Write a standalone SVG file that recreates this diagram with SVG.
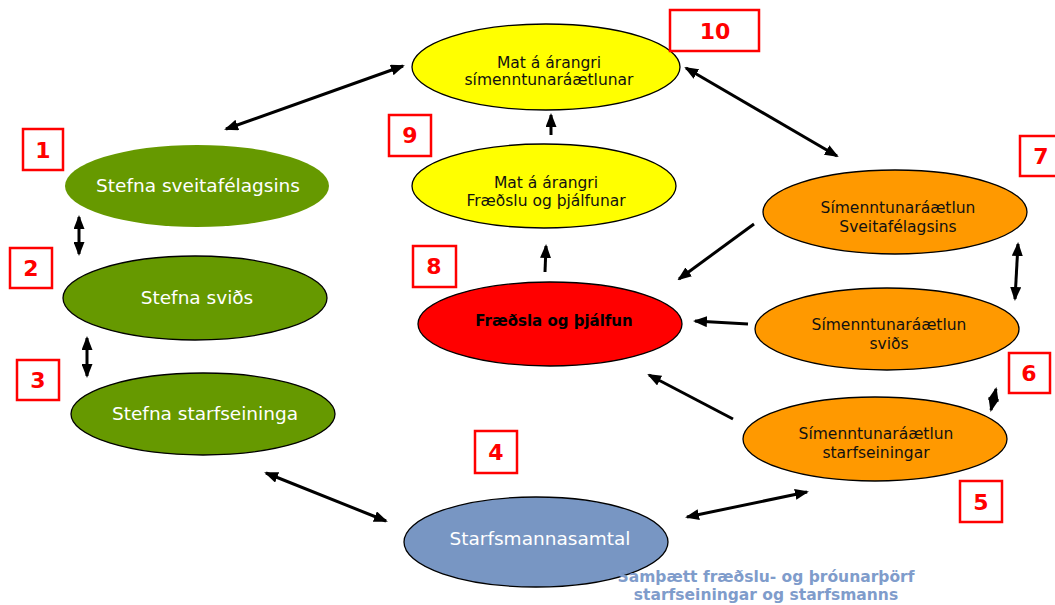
<svg xmlns="http://www.w3.org/2000/svg" width="1055" height="605" viewBox="0 0 1055 605">
<style>
text{font-family:"DejaVu Sans",Verdana,"Liberation Sans",sans-serif;text-anchor:middle}
.e{stroke:#000;stroke-width:1.3}
.green{fill:#669900}
.yellow{fill:#ffff00}
.orange{fill:#ff9900}
.red{fill:#ff0000}
.blue{fill:#7896c3}
.wt{fill:#fff;font-size:18.5px}
.bt{fill:#111;font-size:15.5px}
.num rect{fill:#fff;stroke:#ff0000;stroke-width:2.5}
.num text{fill:#ff0000;font-size:22px;font-weight:bold}
.cap{fill:#7f9ccb;font-size:15.5px;font-weight:bold}
#connectors line{stroke:#000;stroke-width:3}
.d{marker-start:url(#ah);marker-end:url(#ah)}
.s{marker-end:url(#ah)}
</style>
<defs>
<marker id="ah" viewBox="0 0 14 11" markerWidth="14" markerHeight="11" refX="12" refY="5.5" orient="auto-start-reverse" markerUnits="userSpaceOnUse">
<path d="M0,0 L14,5.5 L0,11 z" fill="#000"/>
</marker>
</defs>
<rect width="1055" height="605" fill="#fff"/>

<g id="n1"><ellipse class="green" cx="197" cy="186" rx="132" ry="41"/><text class="wt" x="198" y="192">Stefna sveitafélagsins</text></g>
<g id="n2"><ellipse class="green e" cx="195" cy="298" rx="132" ry="42"/><text class="wt" x="197" y="304">Stefna sviðs</text></g>
<g id="n3"><ellipse class="green e" cx="203" cy="414" rx="132" ry="41"/><text class="wt" x="205" y="420">Stefna starfseininga</text></g>
<g id="n4"><ellipse class="blue e" cx="536" cy="542" rx="132" ry="45"/><text class="wt" x="540" y="545">Starfsmannasamtal</text></g>
<g id="n5"><ellipse class="orange e" cx="875" cy="439" rx="132" ry="42"/><text class="bt" x="876" y="439">Símenntunaráætlun</text><text class="bt" x="876" y="458">starfseiningar</text></g>
<g id="n6"><ellipse class="orange e" cx="887" cy="329" rx="132" ry="41"/><text class="bt" x="889" y="330">Símenntunaráætlun</text><text class="bt" x="889" y="349">sviðs</text></g>
<g id="n7"><ellipse class="orange e" cx="895" cy="212" rx="132" ry="42"/><text class="bt" x="898" y="213">Símenntunaráætlun</text><text class="bt" x="898" y="232">Sveitafélagsins</text></g>
<g id="n8"><ellipse class="red e" cx="550" cy="324" rx="132" ry="42"/><text x="554" y="326" style="font-size:15px;font-weight:bold;fill:#000">Fræðsla og þjálfun</text></g>
<g id="n9"><ellipse class="yellow e" cx="544" cy="186" rx="132" ry="42"/><text class="bt" x="546" y="188">Mat á árangri</text><text class="bt" x="546" y="206">Fræðslu og þjálfunar</text></g>
<g id="n10"><ellipse class="yellow e" cx="546" cy="67" rx="134" ry="43"/><text class="bt" x="549" y="68">Mat á árangri</text><text class="bt" x="549" y="85">símenntunaráætlunar</text></g>

<g id="connectors">
<line class="d" x1="226" y1="129" x2="403" y2="66"/>
<line class="d" x1="79" y1="217" x2="79" y2="254"/>
<line class="d" x1="87" y1="338" x2="87" y2="376"/>
<line class="d" x1="266" y1="473" x2="386" y2="521"/>
<line class="d" x1="687" y1="517" x2="807" y2="492"/>
<line class="d" x1="686" y1="68" x2="837" y2="156"/>
<line class="d" x1="1018" y1="244" x2="1015" y2="299"/>
<line class="d" x1="996" y1="389" x2="991" y2="410"/>
<line class="s" x1="754" y1="224" x2="679" y2="279"/>
<line class="s" x1="748" y1="324" x2="695" y2="321"/>
<line class="s" x1="733" y1="419" x2="649" y2="375"/>
<line class="s" x1="551" y1="135" x2="551" y2="115"/>
<line class="s" x1="545" y1="272" x2="546" y2="246"/>
</g>

<g id="b1" class="num"><rect x="23" y="129" width="40" height="41"/><text x="43" y="158">1</text></g>
<g id="b2" class="num"><rect x="10" y="248" width="42" height="40"/><text x="31" y="276">2</text></g>
<g id="b3" class="num"><rect x="17" y="360" width="42" height="40"/><text x="38" y="388">3</text></g>
<g id="b4" class="num"><rect x="475" y="431" width="42" height="42"/><text x="496" y="460">4</text></g>
<g id="b5" class="num"><rect x="960" y="481" width="42" height="41"/><text x="981" y="510">5</text></g>
<g id="b6" class="num"><rect x="1009" y="353" width="41" height="40"/><text x="1029" y="381">6</text></g>
<g id="b7" class="num"><rect x="1020" y="136" width="42" height="40"/><text x="1041" y="164">7</text></g>
<g id="b8" class="num"><rect x="413" y="246" width="43" height="41"/><text x="434" y="274">8</text></g>
<g id="b9" class="num"><rect x="389" y="115" width="42" height="41"/><text x="410" y="143">9</text></g>
<g id="b10" class="num"><rect x="670" y="10" width="89" height="41"/><text x="715" y="39">10</text></g>

<g id="caption"><text class="cap" x="766" y="582">Samþætt fræðslu- og þróunarþörf</text><text class="cap" x="766" y="600">starfseiningar og starfsmanns</text></g>
</svg>
